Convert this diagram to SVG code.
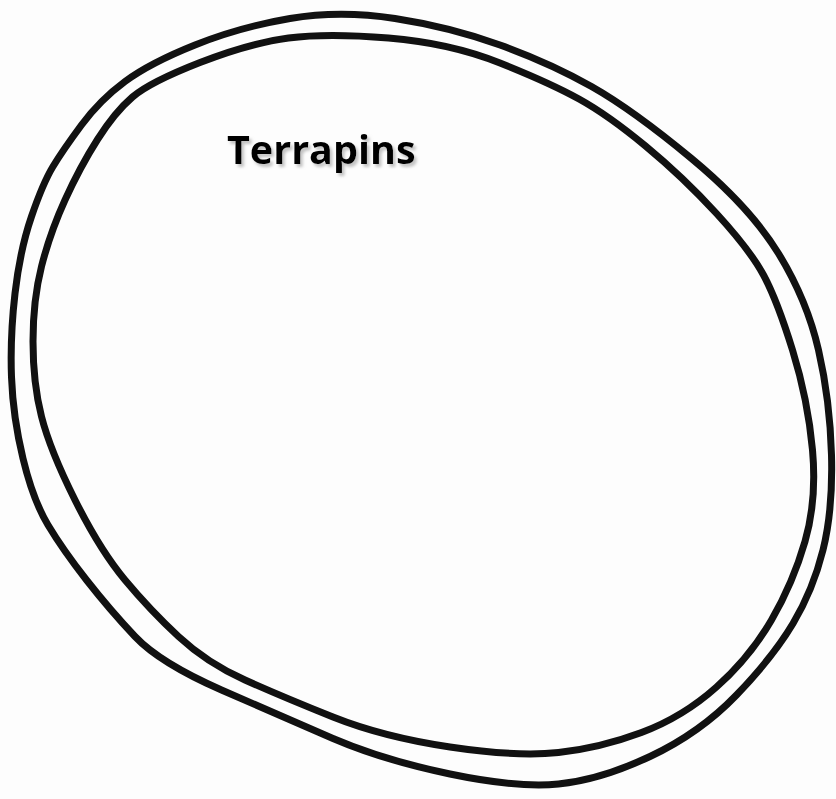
<svg xmlns="http://www.w3.org/2000/svg" width="836" height="799" viewBox="0 0 836 799">
<style>
.ring{fill:none;stroke:#111;stroke-width:7;stroke-linejoin:round;stroke-linecap:round}
.lbl{font-family:"Open Sans","Liberation Sans",sans-serif;font-weight:700;font-size:39.5px;fill:#000}
</style>
<defs>
<filter id="shadow" x="-10%" y="-30%" width="130%" height="170%">
<feDropShadow dx="2.5" dy="3" stdDeviation="1.5" flood-color="#9a9a9a" flood-opacity="0.6"/>
</filter>
</defs>
<rect width="836" height="799" fill="#fdfdfd"/>
<g id="terrapins">
<path class="ring" d="M290,18.5 Q340,10 395,18.5 Q450,27 500,45 Q550,63 591.5,86.5 Q633,110 691.5,158.5 Q750,207 778.5,253.5 Q807,300 818.5,350 Q830,400 831.5,455 Q833,510 823,550 Q813,590 793,623.5 Q773,657 736.5,695 Q700,733 650,756.5 Q600,780 558.5,784 Q517,788 450,774 Q383,760 333,738.5 Q283,717 221.5,690 Q160,663 135,636.5 Q110,610 86.5,580 Q63,550 48,525 Q33,500 23,458.5 Q13,417 11.5,377 Q10,337 15,293.5 Q20,250 31.5,216.5 Q43,183 53,166.5 Q63,150 81.5,125 Q100,100 125,81.5 Q150,63 195,45 Q240,27 290,18.5 Z"/>
<path class="ring" d="M288.5,38 Q327,33 388.5,38 Q450,43 500,63 Q550,83 579,99 Q608,115 645.5,146 Q683,177 716.5,213.5 Q750,250 763.5,275 Q777,300 792.5,350 Q808,400 812.5,450 Q817,500 805,541.5 Q793,583 771.5,620 Q750,657 716.5,687 Q683,717 641.5,732.5 Q600,748 558.5,752.5 Q517,757 450,747 Q383,737 333,717 Q283,697 245,680 Q207,663 178.5,636.5 Q150,610 125,580 Q100,550 75,500 Q50,450 41.5,416.5 Q33,383 33,341.5 Q33,300 41.5,266.5 Q50,233 65,200 Q80,167 97.5,139.5 Q115,112 132.5,97 Q150,82 200,62.5 Q250,43 288.5,38 Z"/>
<text class="lbl" x="227" y="164" filter="url(#shadow)">Terrapins</text>
</g>
</svg>
